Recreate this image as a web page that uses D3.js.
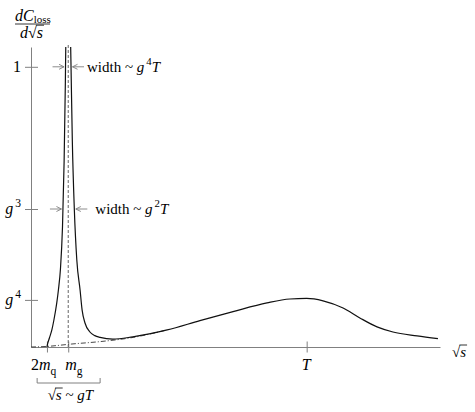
<!DOCTYPE html>
<html><head><meta charset="utf-8">
<script src="https://cdn.jsdelivr.net/npm/d3@7"></script>
</head><body style="margin:0">
<svg width="475" height="412" font-family="Liberation Serif"></svg>
<script>
// ---- data (arbitrary units) ----
const curveX = [0.39,0.40,0.45,0.51,0.56,0.63,0.67,0.72,0.77,0.81,0.84,0.85,0.91,0.97,0.98,1.01,1.06,1.12,1.20,1.25,1.32,1.44,1.56,1.69,2.00,2.49,3.33,4.13,4.94,5.77,6.33,6.74,7.14,7.63,8.04,8.46,8.85,9.44,9.95];
const curveY = [0,0.7,3,5.7,9,14.7,19,26,40,62,88,100,115,100,92.3,69,45.7,29,19,12.3,8,5,3.8,3.2,2.6,3.4,5.7,8.8,11.8,14.7,16,16.2,15.4,13,9.7,6.7,5,3.7,2.8];
const bgX = [0,0.39,1.0,1.69,2.5,3.3];
const bgY = [0,0.2,1.0,1.8,3.2,5.6];
const xTickValues = [0.39,0.91,6.74];
const xTickLabels = ["2m_q","m_g","T"];
const yTickValues = [93.4,46,15.7];
const yTickLabels = ["1","g^3","g^4"];
const widthLevels = [93.4,46];
const widthLabels = ["g^4T","g^2T"];
const peakX = 0.91;
const bracketRange = [0.15,1.69];
const bracketLabel = "√s ~ gT";
const xAxisLabel = "√s";

// ---- layout ----
const FONT = "Liberation Serif";
const svg = d3.select("svg");
const x = d3.scaleLinear().domain([0,10]).range([31,440]);
const y = d3.scaleLinear().domain([0,100]).range([347,47]);
const axisColor = "#808080";
const adv = {"√":0.549,"s":0.389,"d":0.5};

function txt(xx,yy,size){
  return svg.append("text").attr("x",xx).attr("y",yy).attr("font-size",size)
    .attr("font-family",FONT).style("font-family","'Liberation Serif'").attr("fill","#000");
}
function span(sel,s){ return sel.append("tspan").text(s); }
function rich(sel, str, size, romanPrefix){
  const parts=[]; let i=0;
  while(i<str.length){const c=str[i]; if((c==='_'||c==='^')&&i+1<str.length){parts.push({t:str[i+1],m:c});i+=2;} else {parts.push({t:c,m:''});i++;}}
  if(romanPrefix) span(sel,romanPrefix);
  let shift=0;
  parts.forEach(p=>{
    const ts=span(sel,p.t===' '?'\u00a0':p.t);
    const target=p.m==='_'?0.3*size:p.m==='^'?-0.45*size:0;
    if(target-shift!==0) ts.attr("dy",target-shift);
    shift=target;
    if(p.m) ts.attr("font-size",size*0.72);
    if(/[a-zA-Z]/.test(p.t)&&p.m!=='_') ts.attr("font-style","italic");
    if(p.m==='^') ts.attr("dx",2);
  });
}
function radical(x0,baseline,size){
  const xa=x0+adv["√"]*size-0.8, xb=x0+(adv["√"]+adv["s"])*size+1;
  svg.append("line").attr("x1",xa).attr("x2",xb)
    .attr("y1",baseline-0.8*size).attr("y2",baseline-0.8*size)
    .attr("stroke","#000").attr("stroke-width",0.8);
}

// axes (lines only; labels are drawn as rich text below)
const xAxis = svg.append("g").attr("transform",`translate(0,${y(0)})`)
  .call(d3.axisBottom(x).tickValues(xTickValues).tickFormat("").tickSizeOuter(0).tickSizeInner(5.5));
xAxis.selectAll(".tick line").attr("y1",-5.5);
const yAxis = svg.append("g").attr("transform",`translate(${x(0)},0)`)
  .call(d3.axisLeft(y).tickValues(yTickValues).tickFormat("").tickSizeOuter(0).tickSizeInner(6));
yAxis.selectAll(".tick line").attr("x1",7);
[xAxis,yAxis].forEach(g=>g.attr("font-family",null).attr("font-size",null).attr("text-anchor",null).selectAll("text").remove());
svg.selectAll(".domain, .tick line").attr("stroke",axisColor).attr("stroke-width",1);

// clip
svg.append("clipPath").attr("id","clip").append("rect")
  .attr("x",x(0)).attr("y",y(100)).attr("width",x(10)-x(0)).attr("height",y(0)-y(100));

// dashed line at peak
svg.append("line").attr("x1",x(peakX)).attr("x2",x(peakX)).attr("y1",y(100)-2).attr("y2",y(0))
  .attr("stroke","#555").attr("stroke-width",0.9).attr("stroke-dasharray","3,2");

// background dash-dot
const bgData = bgX.map((d,i)=>[d,bgY[i]]);
svg.append("path").attr("d",d3.line().x(d=>x(d[0])).y(d=>y(d[1])).curve(d3.curveMonotoneX)(bgData))
  .attr("fill","none").attr("stroke","#333").attr("stroke-width",0.9).attr("stroke-dasharray","5,2,1,2");

// main curve
const data = curveX.map((d,i)=>[d,curveY[i]]);
svg.append("path").attr("clip-path","url(#clip)")
  .attr("d",d3.line().x(d=>x(d[0])).y(d=>y(d[1])).curve(d3.curveMonotoneX)(data))
  .attr("fill","none").attr("stroke","#111").attr("stroke-width",1.2);

// y tick labels
yTickValues.forEach((v,i)=>{
  const t=txt(21,y(v)+5,16).attr("text-anchor","end");
  rich(t,yTickLabels[i],16);
});
// x tick labels
const xLabelShift=[-16,-3,-5];
xTickValues.forEach((v,i)=>{
  const t=txt(x(v)+xLabelShift[i],370,16);
  rich(t,xTickLabels[i],16);
});

// width annotations
function crossing(level, side){
  for(let i=0;i<data.length-1;i++){
    const a=data[i], b=data[i+1];
    if(side<0 && a[1]<=level && b[1]>=level && a[0]<peakX) return a[0]+(level-a[1])/(b[1]-a[1])*(b[0]-a[0]);
    if(side>0 && a[1]>=level && b[1]<=level && b[0]>peakX) return a[0]+(level-a[1])/(b[1]-a[1])*(b[0]-a[0]);
  }
}
function arrow(x1,x2,yy){
  const dir=Math.sign(x2-x1);
  svg.append("path").attr("d",`M${x1},${yy}L${x2},${yy}M${x2-dir*5},${yy-2.5}L${x2},${yy}L${x2-dir*5},${yy+2.5}`)
    .attr("fill","none").attr("stroke",axisColor).attr("stroke-width",0.9);
}
widthLevels.forEach((lv,i)=>{
  const yy=y(lv);
  const xl=x(crossing(lv,-1)), xr=x(crossing(lv,1));
  arrow(xl-13,xl-1.5,yy);
  arrow(xr+13,xr+1.5,yy);
  const t=txt(xr+16+i*5,yy+5,15);
  rich(t,widthLabels[i],15,"width ~ ");
});

// x axis label
const xl=txt(452,357,15);
rich(xl,xAxisLabel,15);
radical(452,357,15);

// bracket
const bx0=x(bracketRange[0]), bx1=x(bracketRange[1]);
svg.append("path").attr("d",`M${bx0},378L${bx0},383L${bx1},383L${bx1},378`)
  .attr("fill","none").attr("stroke",axisColor).attr("stroke-width",1);
const blx=(bx0+bx1)/2-21;
const bl=txt(blx,400,15);
rich(bl,bracketLabel,15);
radical(blx,400,15);

// y axis label (fraction)
const num=txt(15,21,16);
span(num,"dC").attr("font-style","italic");
span(num,"loss").attr("font-size",11).attr("dy",2);
svg.append("line").attr("x1",15).attr("x2",50).attr("y1",24).attr("y2",24).attr("stroke","#000").attr("stroke-width",0.8);
const den=txt(20,38,16);
span(den,"d").attr("font-style","italic");
span(den,"√");
span(den,"s").attr("font-style","italic");
radical(20+adv["d"]*16,38,16);
</script>
</body></html>
